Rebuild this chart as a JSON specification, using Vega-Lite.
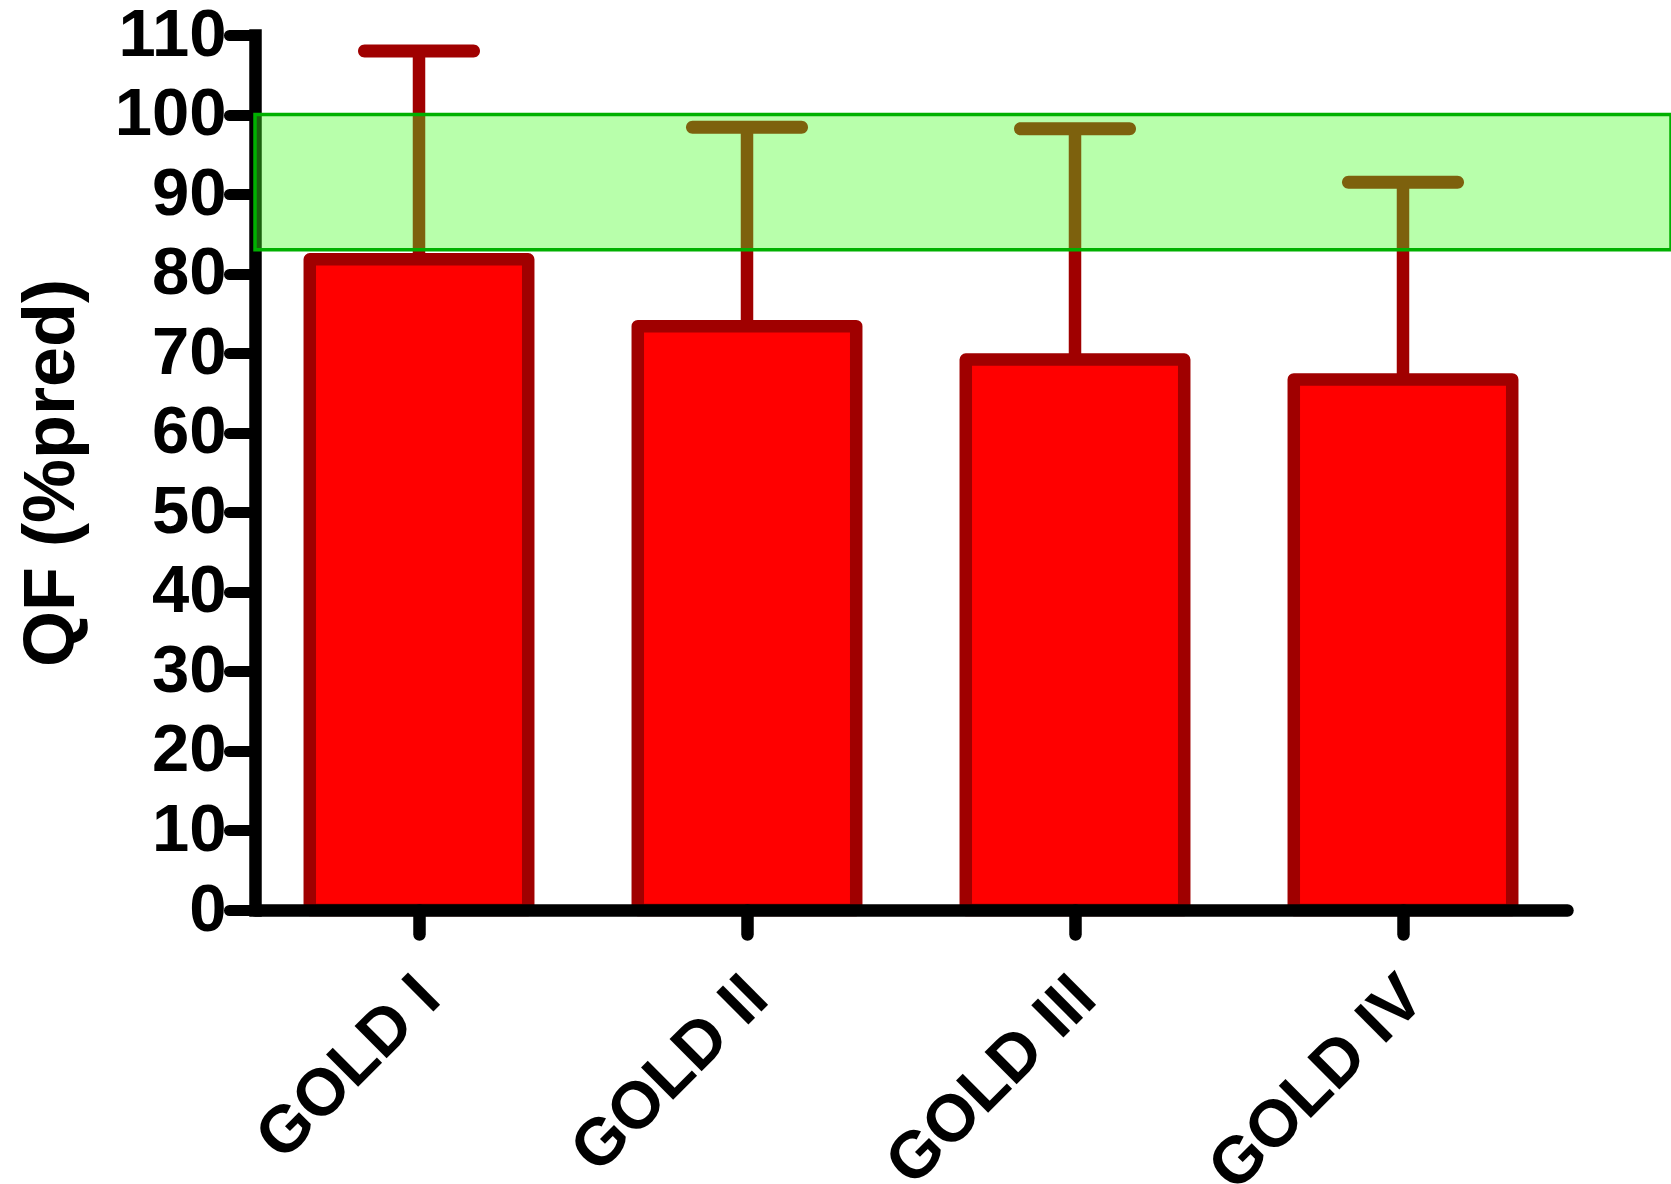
{
  "$schema": "https://vega.github.io/schema/vega-lite/v6.json",
  "width": 1416,
  "height": 875,
  "autosize": {"type": "none"},
  "padding": {"left": 255, "top": 35, "right": 0, "bottom": 274},
  "background": "white",
  "config": {
    "view": {"stroke": null},
    "axis": {
      "labelFont": "Liberation Sans",
      "labelFontWeight": "bold",
      "labelColor": "black",
      "labelLimit": 0,
      "titleFont": "Liberation Sans",
      "titleFontWeight": "bold",
      "titleColor": "black",
      "domainColor": "black",
      "tickColor": "black",
      "grid": false
    }
  },
  "datasets": {
    "stages": [
      {"stage": "GOLD I", "qf": 81.8, "upper": 108.0},
      {"stage": "GOLD II", "qf": 73.4, "upper": 98.4},
      {"stage": "GOLD III", "qf": 69.2, "upper": 98.2},
      {"stage": "GOLD IV", "qf": 66.7, "upper": 91.5}
    ],
    "normal": [{"lo": 83, "hi": 100}]
  },
  "layer": [
    {
      "data": {"name": "stages"},
      "mark": {"type": "bar", "fill": "#FF0000", "stroke": "#A00000", "strokeWidth": 12.5, "strokeJoin": "round", "width": {"band": 0.666}},
      "encoding": {
        "x": {
          "field": "stage", "type": "nominal", "sort": null,
          "scale": {"range": [0, 1312], "paddingInner": 0, "paddingOuter": 0},
          "axis": {
            "title": null, "labelAngle": -45, "labelAlign": "right", "labelBaseline": "middle",
            "labelFontSize": 66, "labelPadding": 53, "labelOffset": 10, "labelLimit": 0, "labelOverlap": false,
            "tickSize": 24, "tickWidth": 12.5, "tickCap": "round",
            "domainWidth": 12.5, "domainCap": "round", "zindex": 1
          }
        },
        "y": {
          "field": "qf", "type": "quantitative",
          "scale": {"domain": [0, 110], "nice": false, "zero": true},
          "axis": {
            "title": "QF (%pred)", "titleFontSize": 72, "titlePadding": 26,
            "values": [0, 10, 20, 30, 40, 50, 60, 70, 80, 90, 100, 110],
            "labelFontSize": 67, "labelPadding": 3, "labelOverlap": false, "tickSize": 26, "tickWidth": 11, "tickCap": "round",
            "domainWidth": 12.5, "domainCap": "square", "zindex": 0
          }
        }
      }
    },
    {
      "data": {"name": "stages"},
      "mark": {"type": "rule", "stroke": "#A00000", "strokeWidth": 12.5, "strokeCap": "butt"},
      "encoding": {
        "x": {"field": "stage", "type": "nominal", "sort": null},
        "y": {"field": "qf", "type": "quantitative"},
        "y2": {"field": "upper"}
      }
    },
    {
      "data": {"name": "stages"},
      "mark": {"type": "tick", "color": "#A00000", "size": 122, "thickness": 13, "cornerRadius": 6.5, "opacity": 1},
      "encoding": {
        "x": {"field": "stage", "type": "nominal", "sort": null},
        "y": {"field": "upper", "type": "quantitative"}
      }
    },
    {
      "data": {"name": "normal"},
      "mark": {"type": "rect", "fill": "#44FF22", "fillOpacity": 0.38, "stroke": "#00B000", "strokeWidth": 3.5},
      "encoding": {
        "y": {"field": "hi", "type": "quantitative"},
        "y2": {"field": "lo"}
      }
    }
  ]
}
